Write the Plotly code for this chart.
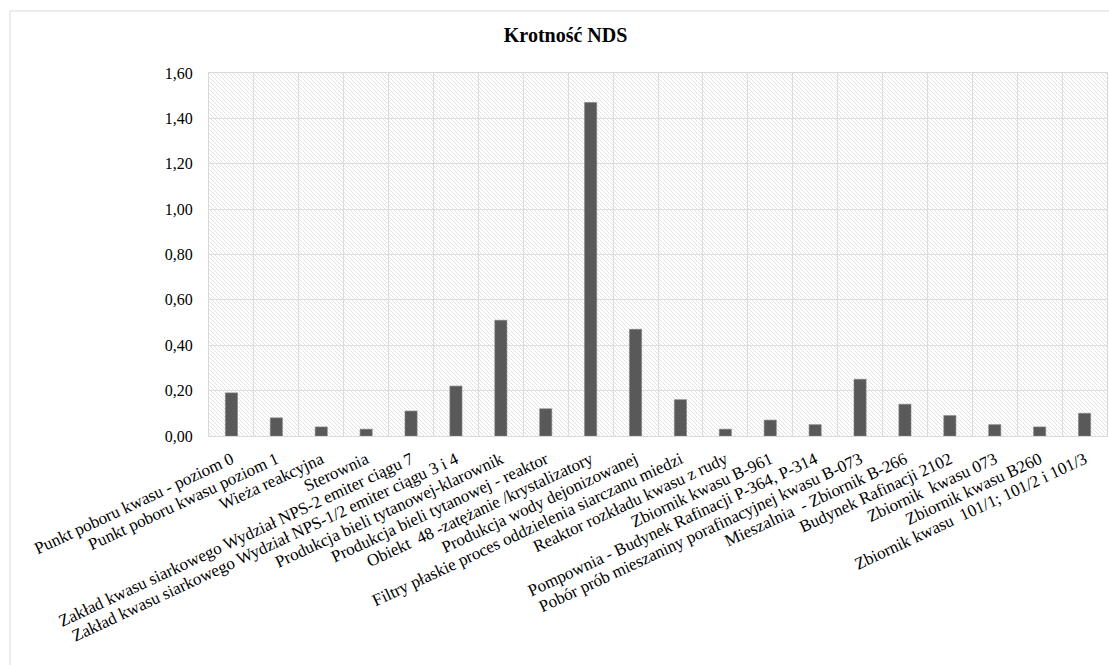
import base64
import plotly.graph_objects as go

# Sampling points and their NDS multiples
categories = [
    "Punkt poboru kwasu - poziom 0",
    "Punkt poboru kwasu poziom 1",
    "Wieża reakcyjna",
    "Sterownia",
    "Zakład kwasu siarkowego Wydział NPS-2 emiter ciągu 7",
    "Zakład kwasu siarkowego Wydział NPS-1/2 emiter ciągu 3 i 4",
    "Produkcja bieli tytanowej-klarownik",
    "Produkcja bieli tytanowej - reaktor",
    "Obiekt  48 -zatężanie /krystalizatory",
    "Produkcja wody dejonizowanej",
    "Filtry płaskie proces oddzielenia siarczanu miedzi",
    "Reaktor rozkładu kwasu z rudy",
    "Zbiornik kwasu B-961",
    "Pompownia - Budynek Rafinacji P-364, P-314",
    "Pobór prób mieszaniny porafinacyjnej kwasu B-073",
    "Mieszalnia  - Zbiornik B-266",
    "Budynek Rafinacji 2102",
    "Zbiornik  kwasu 073",
    "Zbiornik kwasu B260",
    "Zbiornik kwasu  101/1; 101/2 i 101/3",
]
values = [0.19, 0.08, 0.04, 0.03, 0.11, 0.22, 0.51, 0.12, 1.47, 0.47,
          0.16, 0.03, 0.07, 0.05, 0.25, 0.14, 0.09, 0.05, 0.04, 0.10]

y_ticks = [0.0, 0.2, 0.4, 0.6, 0.8, 1.0, 1.2, 1.4, 1.6]

FONT = "Liberation Serif, Times New Roman, serif"

# Fine diagonal hatch used as plot-area background
hatch_svg = (
    '<svg xmlns="http://www.w3.org/2000/svg" width="898" height="363" '
    'viewBox="0 0 898 363" preserveAspectRatio="none">'
    '<defs><pattern id="h" patternUnits="userSpaceOnUse" width="4" height="4">'
    '<rect width="4" height="4" fill="#ffffff"/>'
    '<path d="M-1,-1 L5,5 M-1,3 L1,5 M3,-1 L5,1" stroke="#e2e2e2" stroke-width="1"/>'
    '</pattern></defs>'
    '<rect width="898" height="363" fill="url(#h)"/></svg>'
)
hatch_uri = "data:image/svg+xml;base64," + base64.b64encode(hatch_svg.encode()).decode()

fig = go.Figure(
    go.Bar(
        x=categories,
        y=values,
        width=0.27,
        marker=dict(color="#595959", line=dict(color="#7f7f7f", width=0.6)),
        hoverinfo="x+y",
    )
)

fig.update_layout(
    width=1109,
    height=665,
    margin=dict(l=209, r=2, t=73, b=229),
    paper_bgcolor="white",
    plot_bgcolor="white",
    separators=", ",
    font=dict(family=FONT, size=16, color="#000000"),
    showlegend=False,
    title=dict(
        text="<b>Krotność NDS</b>",
        x=0.51,
        xref="container",
        xanchor="center",
        y=0.947,
        yref="container",
        yanchor="middle",
        font=dict(family=FONT, size=20, color="#000000"),
    ),
    images=[
        dict(
            source=hatch_uri,
            xref="paper", yref="paper",
            x=0, y=1, sizex=1, sizey=1,
            xanchor="left", yanchor="top",
            sizing="stretch",
            layer="below",
        )
    ],
    shapes=[
        # outer chart frame
        dict(
            type="rect", xref="paper", yref="paper",
            x0=-0.2216, x1=1.02, y0=-0.66, y1=1.1708,
            line=dict(color="#d9d9d9", width=1),
            fillcolor="rgba(0,0,0,0)",
            layer="below",
        )
    ],
    bargap=0.73,
)

fig.update_xaxes(
    type="category",
    tickangle=-25,
    tickson="boundaries",
    showgrid=True,
    gridcolor="#dcdcdc",
    gridwidth=1,
    ticks="",
    showline=True,
    linecolor="#d9d9d9",
    mirror=True,
    ticklabelstandoff=6,
    tickfont=dict(family=FONT, size=17, color="#000000"),
)

fig.update_yaxes(
    range=[0, 1.6],
    tickvals=y_ticks,
    tickformat=".2f",
    showgrid=True,
    gridcolor="#dcdcdc",
    gridwidth=1,
    zeroline=False,
    ticks="",
    showline=True,
    linecolor="#d9d9d9",
    mirror=True,
    ticklabelstandoff=12,
    tickfont=dict(family=FONT, size=16, color="#000000"),
)

fig.write_html("out.html")
